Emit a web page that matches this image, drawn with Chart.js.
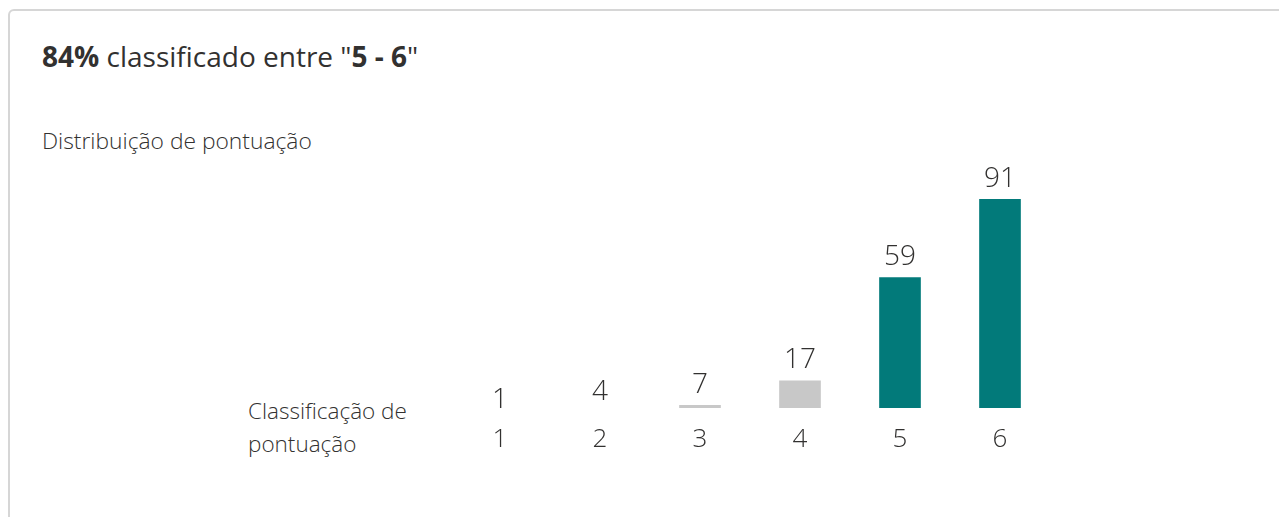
<!DOCTYPE html>
<html lang="pt">
<head>
  <meta charset="UTF-8" />
  <title>Distribuição de pontuação</title>
  <script src="https://cdn.jsdelivr.net/npm/chart.js"></script>
  <style>
    body { margin: 0; background: #fff; font-family: "Open Sans", "Noto Sans", sans-serif; color: #323130; overflow: hidden; }
    #card { position: absolute; left: 8px; top: 9px; width: 1400px; height: 700px; border: 2px solid #d6d6d6; border-radius: 6px; }
    #title { position: absolute; left: 42px; top: 42px; font-size: 28px; line-height: 28px; white-space: nowrap; }
    #title b { font-weight: 700; }
    #subtitle { position: absolute; left: 42px; top: 130px; font-size: 22.8px; line-height: 22.8px; font-weight: 300; white-space: nowrap; }
    #axisName { position: absolute; left: 248px; top: 394px; font-size: 22.5px; line-height: 33px; font-weight: 300; }
    #chartBox { position: absolute; left: 450px; top: 150px; width: 600px; height: 318px; }
  </style>
</head>
<body>
  <div id="card"></div>
  <div id="title"><b>84%</b> classificado entre "<b>5 - 6</b>"</div>
  <div id="subtitle">Distribuição de pontuação</div>
  <div id="axisName">Classificação de<br/>pontuação</div>
  <div id="chartBox"><canvas id="scoreChart"></canvas></div>

  <script>
    const categories = ['1', '2', '3', '4', '5', '6'];
    const counts = [1, 4, 7, 17, 59, 91];
    const barColors = ['#c8c8c8', '#c8c8c8', '#c8c8c8', '#c8c8c8', '#027a7a', '#027a7a'];

    // draw the counts above the bars (also for bars below the axis floor)
    const valueLabels = {
      id: 'valueLabels',
      afterDatasetsDraw(chart) {
        const ctx = chart.ctx;
        const yScale = chart.scales.y;
        const meta = chart.getDatasetMeta(0);
        ctx.save();
        ctx.font = '300 28px "Open Sans", sans-serif';
        ctx.fillStyle = '#323130';
        ctx.textAlign = 'center';
        ctx.textBaseline = 'alphabetic';
        meta.data.forEach((bar, i) => {
          const y = yScale.getPixelForValue(counts[i]) - 12.5;
          ctx.fillText(String(counts[i]), bar.x, y);
        });
        ctx.restore();
      }
    };

    new Chart(document.getElementById('scoreChart'), {
      type: 'bar',
      data: {
        labels: categories,
        datasets: [{
          data: counts,
          backgroundColor: barColors,
          barThickness: 41,
          clip: 0
        }]
      },
      options: {
        responsive: true,
        maintainAspectRatio: false,
        animation: false,
        layout: { padding: { top: 49, bottom: 10, left: 0, right: 0 } },
        plugins: { legend: { display: false }, tooltip: { enabled: false } },
        scales: {
          x: {
            grid: { display: false, drawTicks: false },
            border: { display: false },
            ticks: { color: '#323130', padding: 16, font: { family: '"Open Sans", sans-serif', size: 26, weight: 300 } },
            afterFit(scale) { scale.height = 50; }
          },
          y: { display: false, min: 5.9, max: 91 }
        }
      },
      plugins: [valueLabels]
    });
  </script>
</body>
</html>
